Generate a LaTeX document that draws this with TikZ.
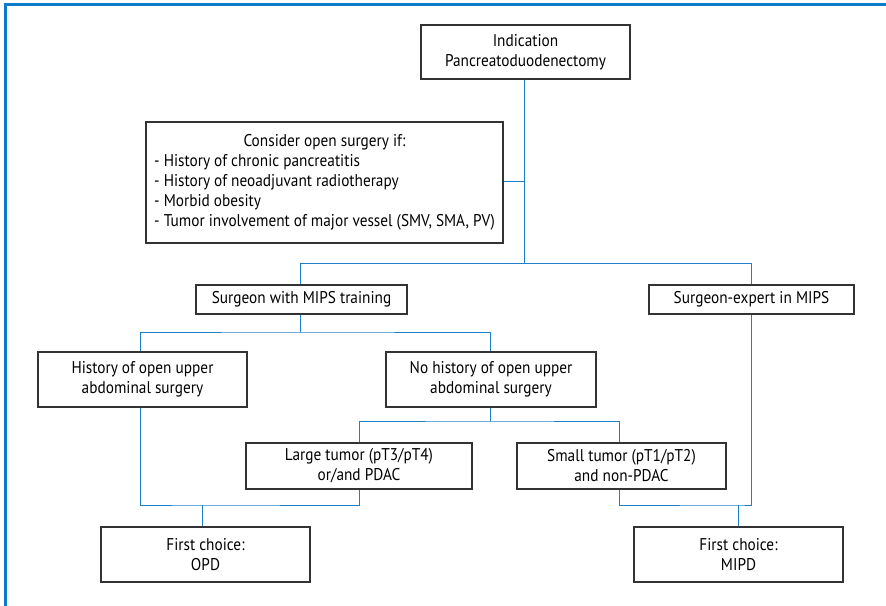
\documentclass[tikz,border=0pt]{standalone}
\usepackage{fontspec}
\setmainfont[FakeStretch=0.9]{PT Sans}
\definecolor{frameblue}{HTML}{0B7CC9}
\definecolor{linkblue}{HTML}{1C80C8}
\definecolor{boxgray}{HTML}{333333}
\begin{document}
\begin{tikzpicture}[x=1pt,y=-1pt,
  box/.style={draw=boxgray, line width=1.3pt, fill=white, inner sep=0pt,
    align=center, font=\fontsize{17}{20}\selectfont},
  link/.style={draw=linkblue, line width=1pt}]
\useasboundingbox (0,0) rectangle (886,605);
% outer frame
\begin{scope}
\clip (0,0) rectangle (886,605);
\draw[frameblue, line width=3pt] (5.5,4.5) rectangle (892,607.2);
\end{scope}

% boxes
\node[box, minimum width=209, minimum height=54] (ind) at (525.5,52)
  {Indication\\Pancreatoduodenectomy};
\node[box, minimum width=357, minimum height=121] (cons) at (324.5,182.5)
  {\begin{tabular}{@{}l@{}}
   \multicolumn{1}{@{}c@{}}{Consider open surgery if:}\\
   - History of chronic pancreatitis\\
   - History of neoadjuvant radiotherapy\\
   - Morbid obesity\\
   - Tumor involvement of major vessel (SMV, SMA, PV)
   \end{tabular}};
\node[box, minimum width=211, minimum height=29] (mips) at (301.5,299.5)
  {Surgeon with MIPS training};
\node[box, minimum width=205, minimum height=29] (expert) at (751.5,299.5)
  {Surgeon-expert in MIPS};
\node[box, minimum width=209, minimum height=55] (hist) at (142.5,379.5)
  {History of open upper\\abdominal surgery};
\node[box, minimum width=210, minimum height=55] (nohist) at (491,379.5)
  {No history of open upper\\abdominal surgery};
\node[box, minimum width=226, minimum height=46] (large) at (359,466)
  {Large tumor (pT3/pT4)\\or/and PDAC};
\node[box, minimum width=209, minimum height=46] (small) at (621.5,466)
  {Small tumor (pT1/pT2)\\and non-PDAC};
\node[box, minimum width=209, minimum height=55] (opd) at (205.5,554.5)
  {First choice:\\OPD};
\node[box, minimum width=209, minimum height=55] (mipd) at (738.5,554.5)
  {First choice:\\MIPD};

% junction points
\coordinate (j1) at (524,263.5);
\coordinate (j2) at (300,332);
\coordinate (j3) at (490,421);
\coordinate (j4) at (202,505);
\coordinate (j5) at (738.5,505);

% connectors
\draw[link] (ind.south -| j1) -- (j1);
\draw[link] (cons.east |- 0,181) -- (j1 |- 0,181);
\draw[link] (mips.north -| j2) |- (j1) -| (expert.north);
\draw[link] (mips.south -| j2) -- (j2);
\draw[link] (hist.north -| 140,0) |- (j2) -| (nohist.north -| j3);
\draw[link] (nohist.south -| j3) -- (j3);
\draw[link] (large.north) |- (j3) -| (small.north -| 619.5,0);
\draw[link] (hist.south -| 140,0) |- (j4) -| (large.south);
\draw[link] (j4) -- (opd.north -| j4);
\draw[link] (small.south -| 619.5,0) |- (j5) -| (expert.south);
\draw[link] (j5) -- (mipd.north);
\end{tikzpicture}
\end{document}
